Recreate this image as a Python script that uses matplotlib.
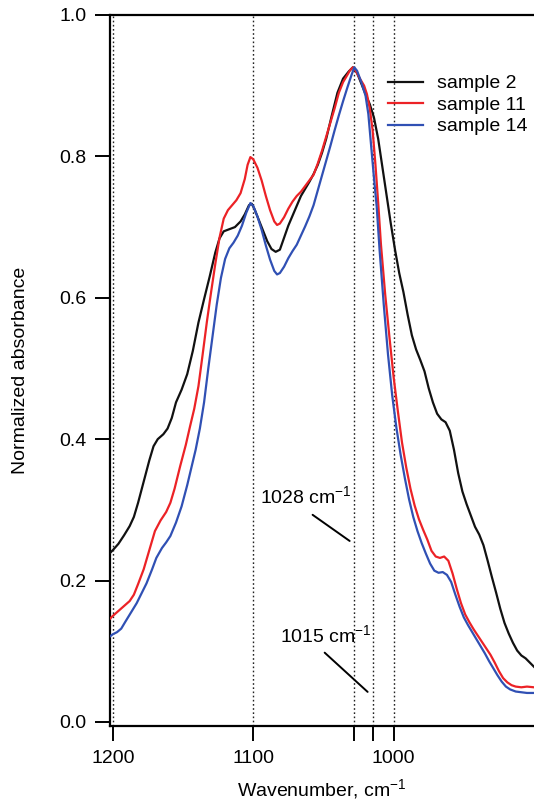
import matplotlib
matplotlib.use('Agg')
import matplotlib.pyplot as plt

plt.rcParams['font.family'] = ['Liberation Sans', 'DejaVu Sans']
plt.rcParams['mathtext.fontset'] = 'custom'
plt.rcParams['mathtext.rm'] = 'Liberation Sans'
plt.rcParams['mathtext.it'] = 'Liberation Sans:italic'

# normalized IR absorbance spectra, wavenumber in cm-1
wn_s2 = [1202, 1200, 1196, 1192, 1188, 1185, 1182, 1178, 1174, 1171, 1168, 1164, 1161,
         1158, 1155, 1151, 1147, 1143, 1139, 1135, 1131, 1127, 1124, 1121, 1117, 1113,
         1109, 1106, 1103, 1101, 1099, 1096, 1093, 1090, 1087, 1084, 1081, 1078, 1075,
         1072, 1069, 1066, 1063, 1060, 1057, 1054, 1051, 1048, 1044, 1040, 1036, 1032,
         1029, 1026, 1023, 1020, 1017, 1014, 1011, 1008, 1005, 1002, 999, 996, 993, 990,
         987, 984, 981, 978, 975, 972, 969, 966, 963, 960, 957, 954, 951, 948, 945, 942,
         939, 936, 933, 930, 927, 924, 921, 918, 915, 912, 909, 906, 903, 900]
ab_s2 = [0.239, 0.243, 0.252, 0.264, 0.277, 0.290, 0.310, 0.340, 0.370, 0.390, 0.400,
         0.407, 0.415, 0.430, 0.452, 0.470, 0.492, 0.525, 0.565, 0.598, 0.630, 0.664,
         0.684, 0.694, 0.697, 0.700, 0.708, 0.718, 0.731, 0.733, 0.725, 0.710, 0.695,
         0.680, 0.669, 0.665, 0.668, 0.685, 0.702, 0.716, 0.730, 0.744, 0.754, 0.764,
         0.775, 0.788, 0.805, 0.825, 0.858, 0.890, 0.910, 0.920, 0.926, 0.918, 0.903,
         0.888, 0.874, 0.855, 0.825, 0.785, 0.745, 0.705, 0.668, 0.635, 0.608, 0.576,
         0.547, 0.527, 0.512, 0.496, 0.472, 0.452, 0.436, 0.428, 0.424, 0.412, 0.385,
         0.352, 0.326, 0.308, 0.292, 0.276, 0.265, 0.250, 0.228, 0.205, 0.183, 0.160,
         0.140, 0.125, 0.112, 0.101, 0.094, 0.090, 0.084, 0.078]

wn_s11 = [1202, 1200, 1196, 1192, 1188, 1185, 1182, 1178, 1174, 1170, 1166, 1162, 1159,
          1156, 1152, 1148, 1145, 1142, 1139, 1136, 1133, 1130, 1127, 1124, 1121, 1118,
          1115, 1112, 1109, 1106, 1104, 1102, 1100, 1097, 1094, 1091, 1088, 1085, 1083,
          1081, 1078, 1075, 1072, 1069, 1066, 1063, 1060, 1057, 1054, 1051, 1048, 1045,
          1042, 1039, 1036, 1033, 1031, 1029, 1027, 1024, 1021, 1019, 1017, 1015, 1013,
          1011, 1009, 1006, 1003, 1000, 997, 994, 991, 988, 985, 982, 979, 976, 973, 970,
          967, 964, 961, 958, 955, 952, 949, 946, 943, 940, 937, 934, 931, 928, 925, 922,
          919, 916, 913, 909, 905, 900]
ab_s11 = [0.146, 0.150, 0.157, 0.164, 0.171, 0.180, 0.195, 0.216, 0.243, 0.270, 0.285,
          0.297, 0.310, 0.330, 0.362, 0.392, 0.418, 0.443, 0.475, 0.520, 0.566, 0.608,
          0.648, 0.685, 0.712, 0.724, 0.731, 0.738, 0.748, 0.768, 0.788, 0.799, 0.796,
          0.784, 0.766, 0.744, 0.724, 0.708, 0.703, 0.705, 0.714, 0.726, 0.736, 0.744,
          0.750, 0.758, 0.766, 0.774, 0.790, 0.808, 0.828, 0.848, 0.868, 0.890, 0.905,
          0.915, 0.922, 0.926, 0.921, 0.910, 0.900, 0.888, 0.868, 0.838, 0.790, 0.735,
          0.675, 0.605, 0.545, 0.488, 0.440, 0.395, 0.360, 0.330, 0.306, 0.287, 0.272,
          0.258, 0.242, 0.234, 0.232, 0.234, 0.228, 0.210, 0.188, 0.168, 0.152, 0.141,
          0.131, 0.122, 0.113, 0.104, 0.095, 0.084, 0.072, 0.062, 0.056, 0.052, 0.050,
          0.049, 0.050, 0.049]

wn_s14 = [1202, 1200, 1197, 1194, 1191, 1187, 1183, 1180, 1176, 1172, 1169, 1165, 1162,
          1159, 1155, 1151, 1147, 1144, 1141, 1138, 1135, 1132, 1129, 1126, 1123, 1120,
          1117, 1114, 1111, 1108, 1105, 1102, 1100, 1097, 1094, 1091, 1088, 1085, 1083,
          1081, 1078, 1075, 1072, 1069, 1066, 1063, 1060, 1057, 1054, 1051, 1048, 1045,
          1042, 1039, 1036, 1033, 1030, 1028, 1026, 1023, 1020, 1018, 1016, 1014, 1012,
          1010, 1007, 1004, 1001, 998, 995, 992, 989, 986, 983, 980, 977, 974, 971, 968,
          965, 962, 959, 956, 953, 950, 947, 944, 941, 938, 935, 932, 929, 926, 923, 920,
          917, 913, 909, 905, 900]
ab_s14 = [0.121, 0.124, 0.127, 0.132, 0.142, 0.155, 0.168, 0.180, 0.196, 0.216, 0.232,
          0.246, 0.254, 0.263, 0.282, 0.305, 0.335, 0.360, 0.385, 0.415, 0.452, 0.500,
          0.545, 0.590, 0.628, 0.655, 0.670, 0.678, 0.688, 0.702, 0.720, 0.734, 0.730,
          0.715, 0.696, 0.674, 0.654, 0.638, 0.633, 0.635, 0.644, 0.656, 0.666, 0.675,
          0.688, 0.701, 0.715, 0.731, 0.752, 0.773, 0.794, 0.815, 0.837, 0.858, 0.878,
          0.897, 0.915, 0.926, 0.921, 0.905, 0.886, 0.860, 0.815, 0.770, 0.728, 0.668,
          0.590, 0.520, 0.462, 0.416, 0.378, 0.345, 0.315, 0.290, 0.270, 0.253, 0.238,
          0.224, 0.214, 0.211, 0.212, 0.208, 0.198, 0.180, 0.163, 0.148, 0.137, 0.127,
          0.117, 0.107, 0.097, 0.086, 0.076, 0.066, 0.057, 0.050, 0.046, 0.043, 0.042,
          0.041, 0.041]

series_names = ['sample 2', 'sample 11', 'sample 14']
series_colors = ['#111111', '#ec2226', '#3050b4']
guide_lines = [1200, 1100, 1028, 1015, 1000]
x_ticks = [1200, 1100, 1028, 1015, 1000]
x_tick_labels = ['1200', '1100', '', '', '1000']
y_ticks = [0.0, 0.2, 0.4, 0.6, 0.8, 1.0]

fig = plt.figure(figsize=(5.34, 8.02), dpi=100)
ax = fig.add_axes([0.206, 0.0948, 0.794, 0.8865])

for g in guide_lines:
    ax.axvline(g, color='#222222', lw=1.0, ls=(0, (1.2, 1.8)), zorder=1)

for wn, ab, name, c in zip([wn_s2, wn_s11, wn_s14], [ab_s2, ab_s11, ab_s14],
                           series_names, series_colors):
    ax.plot(wn, ab, color=c, lw=1.6, label=name, zorder=3)

ax.set_xlim(1202, 900)
ax.set_ylim(-0.0057, 1.0)
ax.set_xticks(x_ticks)
ax.set_xticklabels(x_tick_labels)
ax.set_yticks(y_ticks)
ax.set_yticklabels(['%.1f' % v for v in y_ticks])
ax.tick_params(direction='out', length=11, width=1.4, labelsize=14, pad=6)

for s in ['top', 'left', 'bottom']:
    ax.spines[s].set_linewidth(1.6)
ax.spines['right'].set_visible(False)

ax.set_xlabel('Wavenumber, cm$^{-1}$', fontsize=14)
ax.xaxis.set_label_coords(0.5, -0.072)
ax.set_ylabel('Normalized absorbance', fontsize=14)
ax.yaxis.set_label_coords(-0.19, 0.5)

# peak markers
ax.text(1095.4, 0.31, '1028 cm$^{-1}$', fontsize=14, ha='left', va='baseline')
ax.annotate('', xy=(1031.3, 0.256), xytext=(1057.7, 0.293),
            arrowprops=dict(arrowstyle='-', color='black', lw=1.4, shrinkA=0, shrinkB=0))
ax.text(1081.1, 0.113, '1015 cm$^{-1}$', fontsize=14, ha='left', va='baseline')
ax.annotate('', xy=(1018.5, 0.0425), xytext=(1049.1, 0.098),
            arrowprops=dict(arrowstyle='-', color='black', lw=1.4, shrinkA=0, shrinkB=0))

ax.legend(loc='upper right', bbox_to_anchor=(1.016, 0.935), frameon=False, fontsize=14,
          handlelength=1.8, handletextpad=0.7, labelspacing=0.2, borderaxespad=0.3)

fig.savefig('out.png', dpi=100)
